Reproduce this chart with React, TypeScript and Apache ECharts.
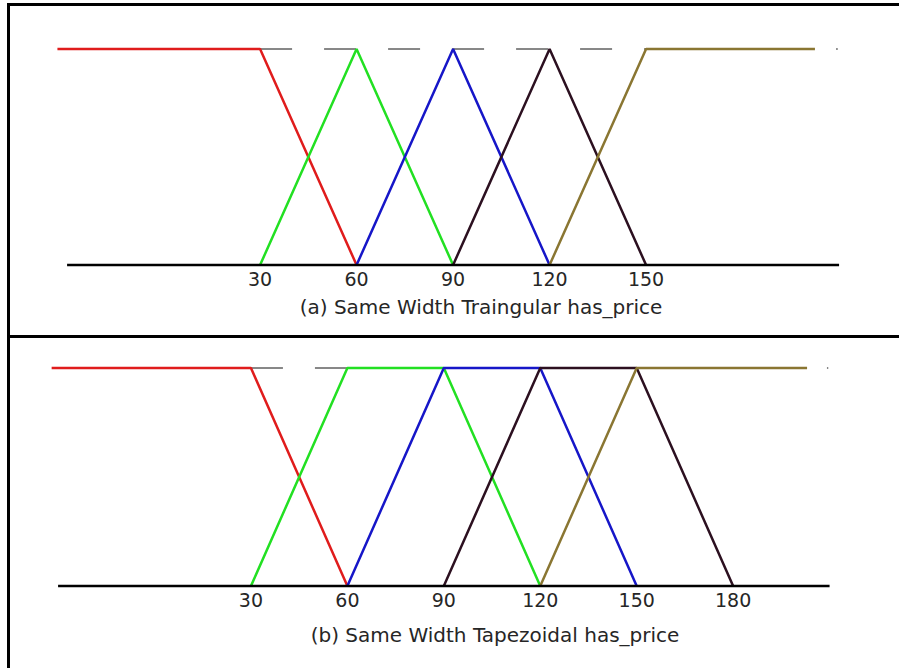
import React, { useEffect, useRef } from "react";
import * as echarts from "echarts";

// Panel (a): Same Width Triangular
const ticksA = [30, 60, 90, 120, 150];
const redA = [[-33, 1], [30, 1], [60, 0]];
const greenA = [[30, 0], [60, 1], [90, 0]];
const blueA = [[60, 0], [90, 1], [120, 0]];
const darkA = [[90, 0], [120, 1], [150, 0]];
const goldA = [[120, 0], [150, 1], [202.5, 1]];
const dashA = [[30, 1], [209.6, 1]];
const baseA = [[-30, 0], [210, 0]];

// Panel (b): Same Width Trapezoidal
const ticksB = [30, 60, 90, 120, 150, 180];
const redB = [[-32, 1], [30, 1], [60, 0]];
const greenB = [[30, 0], [60, 1], [90, 1], [120, 0]];
const blueB = [[60, 0], [90, 1], [120, 1], [150, 0]];
const darkB = [[90, 0], [120, 1], [150, 1], [180, 0]];
const goldB = [[120, 0], [150, 1], [203, 1]];
const dashB = [[30, 1], [209.6, 1]];
const baseB = [[-30, 0], [210, 0]];

const titleA = "(a) Same Width Traingular has_price";
const titleB = "(b) Same Width Tapezoidal has_price";

const COLORS = {
  red: "#e01c1c",
  green: "#22e022",
  blue: "#1616c8",
  dark: "#2c1020",
  gold: "#8a7632",
};

const FONT = "DejaVu Sans";

function lineSeries(data: number[][], color: string, idx: number, width = 2.5, type: any = "solid", z = 3) {
  return {
    type: "line",
    data,
    xAxisIndex: idx,
    yAxisIndex: idx,
    symbol: "none",
    silent: true,
    clip: false,
    z,
    lineStyle: { color, width, type },
  };
}

export default function App() {
  const ref = useRef<HTMLDivElement>(null);
  useEffect(() => {
    if (!ref.current) return;
    const chart = echarts.init(ref.current, undefined, { renderer: "svg" });
    const xAxisCommon = {
      type: "value",
      min: -35,
      max: 212,
      axisLine: { show: false },
      axisTick: { show: false },
      splitLine: { show: false },
    };
    const labelStyle = { color: "#262626", fontFamily: FONT, fontSize: 19, margin: 4 };
    chart.setOption({
      animation: false,
      backgroundColor: "#ffffff",
      grid: [
        { left: 51, right: 53.5, top: 49, height: 216 },
        { left: 42, right: 63, top: 368, height: 218 },
      ],
      xAxis: [
        { ...xAxisCommon, gridIndex: 0, axisLabel: { ...labelStyle, customValues: ticksA } },
        { ...xAxisCommon, gridIndex: 1, axisLabel: { ...labelStyle, customValues: ticksB } },
      ],
      yAxis: [
        { type: "value", gridIndex: 0, min: 0, max: 1, show: false },
        { type: "value", gridIndex: 1, min: 0, max: 1, show: false },
      ],
      series: [
        lineSeries(dashA, "#111", 0, 1, [32, 32], 2),
        lineSeries(redA, COLORS.red, 0),
        lineSeries(greenA, COLORS.green, 0),
        lineSeries(blueA, COLORS.blue, 0),
        lineSeries(darkA, COLORS.dark, 0),
        lineSeries(goldA, COLORS.gold, 0),
        lineSeries(baseA, "#000", 0, 2.5, "solid", 4),
        lineSeries(dashB, "#111", 1, 1, [32, 32], 2),
        lineSeries(redB, COLORS.red, 1),
        lineSeries(greenB, COLORS.green, 1),
        lineSeries(blueB, COLORS.blue, 1),
        lineSeries(darkB, COLORS.dark, 1),
        lineSeries(goldB, COLORS.gold, 1),
        lineSeries(baseB, "#000", 1, 2.5, "solid", 4),
      ],
      graphic: [
        { type: "rect", shape: { x: 7, y: 3, width: 3, height: 668 }, style: { fill: "#000" }, z: 10 },
        { type: "rect", shape: { x: 7, y: 3, width: 892, height: 3 }, style: { fill: "#000" }, z: 10 },
        { type: "rect", shape: { x: 7, y: 335, width: 892, height: 3 }, style: { fill: "#000" }, z: 10 },
        {
          type: "text",
          x: 481,
          y: 307,
          style: { text: titleA, fill: "#262626", font: `20px "${FONT}"`, textAlign: "center", textVerticalAlign: "middle" },
          z: 10,
        },
        {
          type: "text",
          x: 495,
          y: 635,
          style: { text: titleB, fill: "#262626", font: `20px "${FONT}"`, textAlign: "center", textVerticalAlign: "middle" },
          z: 10,
        },
      ],
    });
    return () => chart.dispose();
  }, []);
  return (
    <div
      ref={ref}
      style={{ position: "fixed", left: 0, top: 0, width: 899, height: 668, background: "#fff" }}
    />
  );
}
